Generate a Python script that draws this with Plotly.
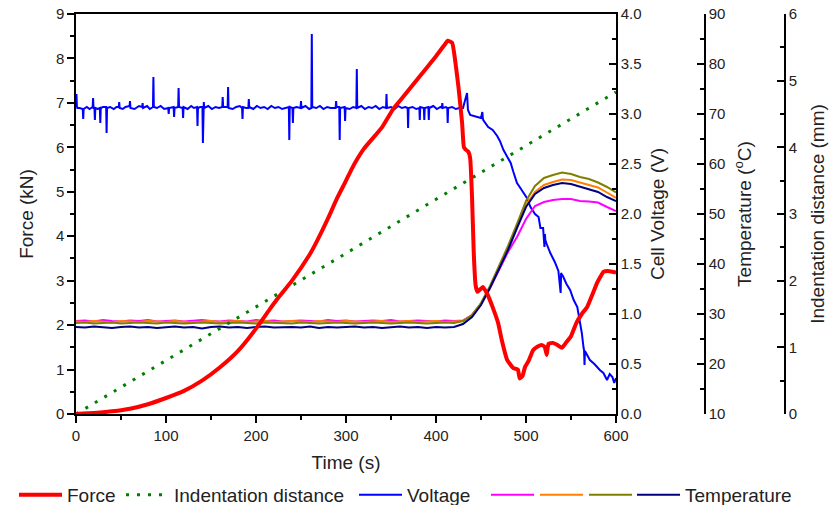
import plotly.graph_objects as go

# ---------------- data ----------------
force_t = [0, 20, 40, 60, 80, 100, 120, 140, 160, 180, 200, 215, 223, 240, 260, 268, 280, 290, 300, 306, 312,
           320, 340, 352, 360, 380, 400, 410, 413, 418, 421, 425, 429, 431, 433, 436, 438, 440, 442, 444,
           446, 449, 452, 457, 463, 469, 473, 479, 486, 491, 493, 496, 499, 503, 508, 513, 518, 521, 523,
           525, 530, 535, 540, 545, 550, 556, 562, 568, 574, 579, 583, 586, 591, 596, 600]
force_kn = [0, 0.02, 0.06, 0.12, 0.22, 0.36, 0.52, 0.75, 1.05, 1.42, 1.92, 2.35, 2.57, 3.0, 3.6, 3.9, 4.4,
            4.85, 5.25, 5.5, 5.72, 5.97, 6.45, 6.85, 7.05, 7.55, 8.05, 8.32, 8.4, 8.35, 8.0, 7.35, 6.55, 6.0,
            5.95, 5.9, 5.75, 4.9, 3.6, 2.9, 2.75, 2.8, 2.86, 2.7, 2.4, 2.05, 1.67, 1.22, 1.03, 1.0, 0.8,
            0.85, 1.06, 1.2, 1.44, 1.52, 1.55, 1.5, 1.33, 1.58, 1.6, 1.55, 1.49, 1.62, 1.75, 2.05, 2.25,
            2.41, 2.7, 2.95, 3.1, 3.2, 3.22, 3.2, 3.18]

indent_t = [0, 100, 200, 300, 400, 500, 600]
indent_mm = [0, 0.80, 1.61, 2.41, 3.22, 4.02, 4.83]

# voltage: baseline readings with the sharp single-sample spikes
volt_t = [0, 0.5, 1, 1.5, 4, 7.5, 8, 8.5, 12, 15, 18.5, 19, 19.5, 20.5, 21, 21.5, 24, 26.5, 27, 27.5, 30,
          33.5, 34, 34.5, 38, 42, 45, 47.5, 48, 48.5, 52, 55, 59.5, 60, 60.5, 65, 70, 73.5, 74, 74.5, 79,
          82, 85.5, 86, 86.5, 90, 94, 98, 102.5, 103, 103.5, 108.5, 109, 109.5, 113.5, 114, 114.5,
          118.5, 119, 119.5, 124, 128, 131, 134.5, 135, 135.5, 138, 140.5, 141, 141.5, 142, 142.5, 147,
          151, 155, 159, 162.5, 163, 163.5, 166, 168.5, 169, 169.5, 174, 178, 182, 184.5, 185, 185.5,
          189, 191.5, 192, 192.5, 197, 201, 205, 209, 213, 217, 221, 225, 229, 233, 236.5, 237, 237.5,
          240.5, 241, 241.5, 245, 249.5, 250, 250.5, 255, 259, 261.5, 262, 262.5, 267, 271, 275, 279, 283,
          288.5, 289, 289.5, 292.5, 293, 293.5, 298.5, 299, 299.5, 304, 308, 311.5, 312, 312.5, 317, 321,
          325, 329, 333, 337, 341, 344.5, 345, 345.5, 350, 354, 358, 362, 366, 368.5, 369, 369.5, 374,
          378, 381.5, 382, 382.5, 386.5, 387, 387.5, 391.5, 392, 392.5, 397, 401, 405, 406.5, 407, 407.5,
          411, 412.5, 413, 413.5, 418, 422, 426, 430, 434.5, 435, 435.5, 438, 441, 446, 450, 451.5, 452,
          452.5, 458, 463, 468, 471, 475, 479, 483, 486, 490, 493, 497, 501, 505, 510, 514, 516, 519,
          520.5, 521, 521.5, 523, 527, 532, 536, 538.5, 539, 539.5, 541, 545, 549, 553, 557, 560, 562,
          564, 564.5, 565, 565.5, 571, 576, 582, 586, 590, 593, 596, 598, 600]
volt_v = [3.07, 3.2, 3.08, 3.06, 3.06, 3.05, 2.95, 3.05, 3.07, 3.05, 3.07, 3.16, 3.06, 3.06, 2.94, 3.06,
          3.05, 3.06, 2.91, 3.06, 3.07, 3.07, 2.81, 3.06, 3.07, 3.05, 3.07, 3.07, 3.12, 3.06, 3.05, 3.07,
          3.08, 3.13, 3.06, 3.05, 3.08, 3.07, 3.11, 3.06, 3.08, 3.05, 3.07, 3.37, 3.07, 3.06, 3.08, 3.05,
          3.06, 3.0, 3.06, 3.07, 2.97, 3.06, 3.07, 3.26, 3.07, 3.06, 2.96, 3.07, 3.05, 3.08, 3.06, 3.07,
          2.88, 3.06, 3.07, 3.07, 2.71, 3.07, 3.12, 3.06, 3.08, 3.05, 3.07, 3.06, 3.07, 3.17, 3.07, 3.07,
          3.07, 3.27, 3.06, 3.05, 3.07, 3.08, 3.06, 2.95, 3.07, 3.06, 3.06, 3.15, 3.07, 3.05, 3.08, 3.06,
          3.07, 3.05, 3.08, 3.06, 3.07, 3.05, 3.06, 3.07, 2.74, 3.07, 3.06, 2.91, 3.06, 3.07, 3.06, 3.13,
          3.06, 3.08, 3.05, 3.06, 3.8, 3.07, 3.06, 3.08, 3.05, 3.07, 3.06, 3.06, 3.13, 3.07, 3.07, 2.74,
          3.06, 3.07, 2.93, 3.06, 3.05, 3.07, 3.06, 3.45, 3.06, 3.08, 3.05, 3.07, 3.06, 3.08, 3.05, 3.07,
          3.06, 3.2, 3.06, 3.07, 3.05, 3.08, 3.06, 3.07, 3.06, 2.86, 3.06, 3.07, 3.05, 3.06, 2.94, 3.07,
          3.06, 2.94, 3.06, 3.07, 2.94, 3.06, 3.08, 3.05, 3.07, 3.06, 3.11, 3.06, 3.07, 3.06, 2.91, 3.06,
          3.07, 3.05, 3.06, 3.06, 3.21, 3.05, 3.04, 2.99, 2.98, 2.97, 2.96, 3.02, 2.96, 2.94, 2.87, 2.84,
          2.78, 2.73, 2.64, 2.58, 2.51, 2.42, 2.31, 2.27, 2.21, 2.16, 2.07, 2.0, 1.97, 1.86, 1.86, 1.67,
          1.8, 1.74, 1.7, 1.61, 1.52, 1.43, 1.21, 1.41, 1.4, 1.38, 1.3, 1.24, 1.14, 1.07, 0.93, 0.81,
          0.66, 0.64, 0.49, 0.63, 0.54, 0.5, 0.44, 0.41, 0.34, 0.4, 0.37, 0.31, 0.36]

temp_t = [0, 10, 20, 30, 40, 50, 60, 70, 80, 90, 100, 110, 120, 130, 140, 150, 160, 170, 180, 190, 200,
          210, 220, 230, 240, 250, 260, 270, 280, 290, 300, 310, 320, 330, 340, 350, 360, 370, 380, 390,
          400, 410, 420, 430, 440, 450, 460, 470, 480, 490, 500, 510, 520, 530, 540, 550, 560, 570, 580,
          590, 600]
temp_1 = [28.6, 28.7, 28.5, 28.8, 28.6, 28.5, 28.7, 28.6, 28.8, 28.5, 28.6, 28.7, 28.5, 28.6, 28.8, 28.6,
          28.5, 28.7, 28.6, 28.5, 28.8, 28.6, 28.7, 28.5, 28.6, 28.7, 28.6, 28.5, 28.8, 28.6, 28.7, 28.5,
          28.6, 28.7, 28.6, 28.8, 28.5, 28.6, 28.7, 28.6, 28.5, 28.7, 28.6, 28.7, 29.8, 32.0, 35.2, 38.8,
          42.4, 45.4, 49.0, 51.6, 52.4, 52.8, 53.0, 53.0, 52.6, 52.5, 52.3, 51.4, 50.6]
temp_2 = [28.5, 28.4, 28.6, 28.5, 28.3, 28.6, 28.5, 28.4, 28.6, 28.5, 28.4, 28.6, 28.5, 28.3, 28.5, 28.6,
          28.4, 28.5, 28.6, 28.4, 28.5, 28.6, 28.4, 28.5, 28.6, 28.5, 28.4, 28.6, 28.5, 28.4, 28.6, 28.5,
          28.4, 28.5, 28.6, 28.4, 28.5, 28.6, 28.4, 28.5, 28.6, 28.4, 28.5, 28.6, 29.8, 32.0, 35.4, 39.2,
          43.0, 47.4, 51.8, 54.4, 55.8, 56.4, 56.9, 56.8, 56.3, 55.9, 55.3, 54.3, 53.2]
temp_3 = [28.2, 28.3, 28.1, 28.2, 28.3, 28.1, 28.2, 28.3, 28.2, 28.1, 28.3, 28.2, 28.1, 28.2, 28.3, 28.2,
          28.1, 28.2, 28.3, 28.2, 28.1, 28.3, 28.2, 28.2, 28.1, 28.3, 28.2, 28.1, 28.2, 28.3, 28.2, 28.1,
          28.2, 28.3, 28.2, 28.1, 28.2, 28.3, 28.2, 28.1, 28.2, 28.3, 28.2, 28.6, 29.8, 32.2, 35.6, 39.6,
          43.6, 48.0, 52.6, 55.6, 57.2, 57.8, 58.3, 58.0, 57.4, 57.0, 56.3, 55.4, 54.3]
temp_4 = [27.4, 27.3, 27.5, 27.4, 27.2, 27.4, 27.5, 27.3, 27.4, 27.2, 27.4, 27.5, 27.3, 27.4, 27.1, 27.4,
          27.5, 27.3, 27.4, 27.2, 27.4, 27.5, 27.3, 27.4, 27.4, 27.3, 27.5, 27.2, 27.4, 27.3, 27.4, 27.5,
          27.3, 27.4, 27.2, 27.4, 27.5, 27.3, 27.4, 27.2, 27.4, 27.3, 27.4, 28.0, 29.4, 31.8, 35.2, 39.0,
          42.8, 47.2, 51.4, 54.0, 55.2, 55.8, 56.2, 56.0, 55.5, 55.0, 54.4, 53.4, 52.6]

x_ticks = [0, 100, 200, 300, 400, 500, 600]

# ---------------- layout geometry (page body margin removed below) ----------------
W, H = 831, 505
ML, MT = 76, 14
MB = H - 414
MR = W - 785
pw = W - ML - MR
x_end = (616 - ML) / pw
temp_pos = (705 - ML) / pw

FONT = "Liberation Sans, Arial, sans-serif"
TXT = "#222222"

LEG_LINE_X = [21, 128, 361, 493, 542, 591, 639]
LEG_Y = 495
LEG_PAD = 7


def leg(i):
    return dict(orientation="h", xref="container", yref="container",
                x=(LEG_LINE_X[i] - LEG_PAD) / W, y=(H - LEG_Y) / H,
                xanchor="left", yanchor="middle", font=dict(family=FONT, size=19, color=TXT),
                itemwidth=43, bgcolor="rgba(0,0,0,0)", borderwidth=0)


fig = go.Figure()

fig.add_trace(go.Scatter(x=volt_t, y=volt_v, mode="lines", name="Voltage",
                         line=dict(color="#0000FF", width=2), yaxis="y", legend="legend3"))
temp_colors = ["#FF00FF", "#FF8000", "#808000", "#000080"]
temp_names = ["", "", "", "Temperature"]
for i, (vals, c, n) in enumerate(zip([temp_1, temp_2, temp_3, temp_4], temp_colors, temp_names)):
    fig.add_trace(go.Scatter(x=temp_t, y=vals, mode="lines", name=n,
                             line=dict(color=c, width=2), yaxis="y2", legend="legend%d" % (4 + i)))
fig.add_trace(go.Scatter(x=indent_t, y=indent_mm, mode="lines", name="Indentation distance",
                         line=dict(color="#008000", width=3, dash="3px,8px"), yaxis="y3", legend="legend2"))
fig.add_trace(go.Scatter(x=force_t, y=force_kn, mode="lines", name="Force",
                         line=dict(color="#FF0000", width=4, shape="spline", smoothing=0.4),
                         yaxis="y4", legend="legend"))

axis_common = dict(showline=True, linecolor="black", linewidth=1.5, showgrid=False, zeroline=False,
                   tickfont=dict(family=FONT, size=15, color=TXT), ticklen=7, tickwidth=1.5,
                   tickcolor="black", automargin=False, ticklabeloverflow="allow")


def ttl(text, standoff):
    return dict(text=text, font=dict(family=FONT, size=19, color=TXT), standoff=standoff)


fig.update_layout(
    width=W, height=H,
    margin=dict(l=ML, r=MR, t=MT, b=MB, autoexpand=False),
    paper_bgcolor="white", plot_bgcolor="white",
    font=dict(family=FONT, color=TXT),
    xaxis=dict(domain=[0, x_end], range=[0, 600], tickvals=x_ticks, ticks="outside", mirror=True,
               title=ttl("Time (s)", 13),
               minor=dict(ticks="outside", dtick=50, ticklen=4, tickwidth=1.5, tickcolor="black"),
               **axis_common),
    yaxis=dict(range=[0, 4.0], dtick=0.5, tickformat=".1f", side="right", anchor="x", ticks="inside",
               title=ttl("Cell Voltage (V)", 10),
               minor=dict(ticks="inside", dtick=0.25, ticklen=4, tickwidth=1.5, tickcolor="black"),
               **axis_common),
    yaxis2=dict(range=[10, 90], dtick=10, side="right", anchor="free", position=temp_pos,
                overlaying="y", ticks="inside",
                title=ttl("Temperature (<sup>o</sup>C)", 12),
                minor=dict(ticks="inside", dtick=5, ticklen=4, tickwidth=1.5, tickcolor="black"),
                **axis_common),
    yaxis3=dict(range=[0, 6], dtick=1, side="right", anchor="free", position=1.0,
                overlaying="y", ticks="inside",
                title=ttl("Indentation distance (mm)", 14),
                minor=dict(ticks="inside", dtick=0.5, ticklen=4, tickwidth=1.5, tickcolor="black"),
                **axis_common),
    yaxis4=dict(range=[0, 9], dtick=1, side="left", anchor="x", overlaying="y", ticks="outside",
                title=ttl("Force (kN)", 17),
                minor=dict(ticks="outside", dtick=0.5, ticklen=4, tickwidth=1.5, tickcolor="black"),
                **axis_common),
    showlegend=True,
    legend=leg(0), legend2=leg(1), legend3=leg(2), legend4=leg(3),
    legend5=leg(4), legend6=leg(5), legend7=leg(6),
)

fig.write_html("out.html", config={"displayModeBar": False},
               post_script="document.body.style.margin='0px';")
